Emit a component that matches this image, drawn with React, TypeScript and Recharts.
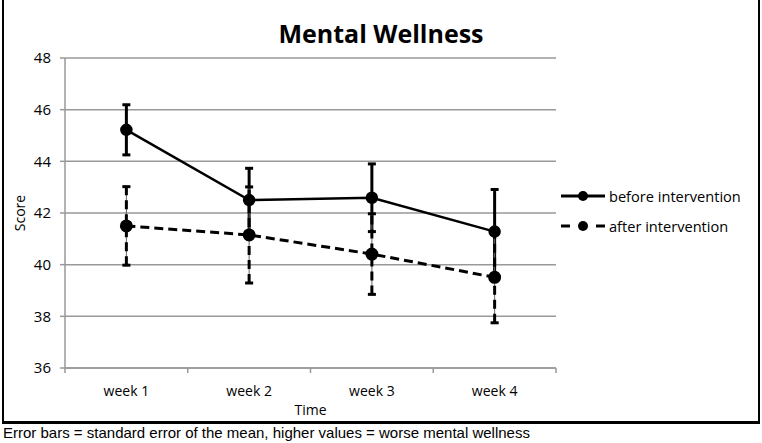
import { LineChart, Line, XAxis, YAxis, CartesianGrid, ErrorBar, Legend, Label } from "recharts";

const weeks = ["week 1", "week 2", "week 3", "week 4"];
const weekPos = [1, 2, 3, 4];
const seriesNames = ["before intervention", "after intervention"];
const beforeScore = [45.22, 42.5, 42.59, 41.28];
const beforeSE = [0.97, 1.23, 1.31, 1.63];
const afterScore = [41.5, 41.15, 40.41, 39.51];
const afterSE = [1.52, 1.86, 1.56, 1.76];
const yTicks = [36, 38, 40, 42, 44, 46, 48];
// category labels sit on whole numbers, tick marks on the half steps between them
const xTicks = [0.5, 1, 1.5, 2, 2.5, 3, 3.5, 4, 4.5];

const data = weekPos.map((x, i) => ({
  x,
  before: beforeScore[i],
  beforeErr: beforeSE[i],
  after: afterScore[i],
  afterErr: afterSE[i],
}));

const FONT = "'Open Sans', sans-serif";

const WeekTick = (props: any) => {
  const { x, y, payload } = props;
  const v = payload.value;
  if (Number.isInteger(v)) {
    return (
      <text x={x} y={y} dy={23} textAnchor="middle" fill="#000" fontSize={14} fontFamily={FONT}>
        {weeks[v - 1]}
      </text>
    );
  }
  return <line x1={x} y1={y - 5} x2={x} y2={y} stroke="#999" strokeWidth={1.5} />;
};

const LegendBox = (props: any) => {
  const items = [...(props.payload || [])].sort(
    (a: any, b: any) => seriesNames.indexOf(a.value) - seriesNames.indexOf(b.value)
  );
  return (
    <div style={{ fontFamily: FONT }}>
      {items.map((entry: any) => (
        <div key={entry.value} style={{ display: "flex", alignItems: "center", height: 30 }}>
          <svg width={48} height={12}>
            <line
              x1={2}
              y1={6}
              x2={46}
              y2={6}
              stroke="#000"
              strokeWidth={3}
              strokeDasharray={entry.payload.strokeDasharray ? "9 26" : undefined}
            />
            <circle cx={24} cy={6} r={5} fill="#000" />
          </svg>
          <span style={{ fontSize: 14.6, color: "#000", marginLeft: 2 }}>{entry.value}</span>
        </div>
      ))}
    </div>
  );
};

export default function App() {
  return (
    <div style={{ position: "absolute", left: 0, top: 0, width: 762, height: 443, background: "#fff" }}>
      <div
        style={{
          position: "absolute",
          left: 2,
          top: -3,
          width: 754,
          height: 424,
          borderLeft: "2px solid #000",
          borderRight: "2px solid #000",
          borderBottom: "3px solid #000",
        }}
      />
      <div
        style={{
          position: "absolute",
          left: 0,
          width: 762,
          top: 16,
          textAlign: "center",
          fontFamily: FONT,
          fontWeight: 700,
          fontSize: 25,
          color: "#000",
        }}
      >
        Mental Wellness
      </div>
      <div style={{ position: "absolute", left: 0, top: 0 }}>
        <LineChart width={762} height={424} data={data} margin={{ top: 58, right: 206, left: 5, bottom: 6 }}>
          <CartesianGrid vertical={false} stroke="#999" strokeWidth={1.5} />
          <XAxis
            dataKey="x"
            type="number"
            domain={[0.5, 4.5]}
            ticks={xTicks}
            interval={0}
            tick={<WeekTick />}
            tickLine={false}
            tickSize={5}
            tickMargin={0}
            height={50}
            axisLine={{ stroke: "#999", strokeWidth: 1.5 }}
          >
            <Label value="Time" position="insideBottom" offset={3} fill="#000" fontSize={14} fontFamily={FONT} />
          </XAxis>
          <YAxis
            domain={[36, 48]}
            ticks={yTicks}
            width={60}
            tickSize={5}
            tickMargin={9}
            interval={0}
            axisLine={{ stroke: "#999", strokeWidth: 1.5 }}
            tickLine={{ stroke: "#999", strokeWidth: 1.5 }}
            tick={{ fill: "#000", fontSize: 15, fontFamily: FONT }}
          >
            <Label
              value="Score"
              angle={-90}
              position="insideLeft"
              offset={15}
              fill="#000"
              fontSize={14}
              fontFamily={FONT}
              style={{ textAnchor: "middle" }}
            />
          </YAxis>
          <Legend
            layout="horizontal"
            verticalAlign="middle"
            align="center"
            content={<LegendBox />}
            wrapperStyle={{ position: "absolute", left: 559, top: 181, width: 203 }}
          />
          <Line
            dataKey="before"
            name="before intervention"
            stroke="#000"
            strokeWidth={2.5}
            dot={{ r: 5, fill: "#000", stroke: "#000" }}
            isAnimationActive={false}
          >
            <ErrorBar dataKey="beforeErr" width={4} stroke="#000" strokeWidth={3} direction="y" />
          </Line>
          <Line
            dataKey="after"
            name="after intervention"
            stroke="#000"
            strokeWidth={3}
            strokeDasharray="9 5"
            dot={{ r: 5, fill: "#000", stroke: "#000", strokeDasharray: "0" }}
            isAnimationActive={false}
          >
            <ErrorBar dataKey="afterErr" width={4} stroke="#666" strokeWidth={1} direction="y" />
            <ErrorBar dataKey="afterErr" width={4} stroke="#000" strokeWidth={3} strokeDasharray="9 5" direction="y" />
          </Line>
        </LineChart>
      </div>
      <div
        style={{
          position: "absolute",
          left: 3,
          top: 424,
          fontFamily: "'Liberation Sans', Arial, sans-serif",
          fontSize: 15,
          color: "#000",
          whiteSpace: "nowrap",
        }}
      >
        Error bars = standard error of the mean, higher values = worse mental wellness
      </div>
    </div>
  );
}
